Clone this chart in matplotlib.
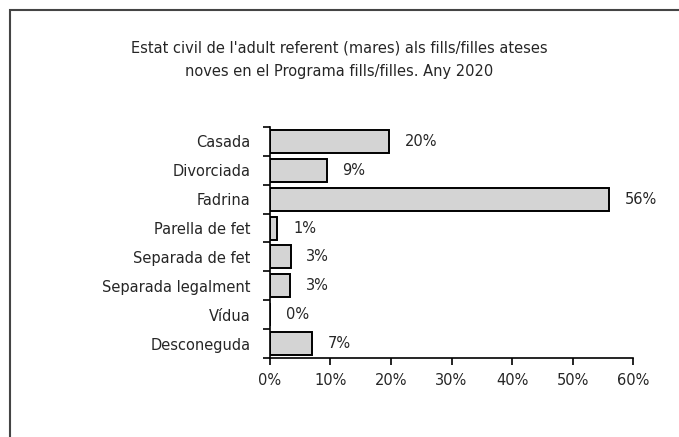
import matplotlib.pyplot as plt
import numpy as np
from matplotlib.patches import Rectangle

# data
categories = ["Casada", "Divorciada", "Fadrina", "Parella de fet",
              "Separada de fet", "Separada legalment", "Vídua", "Desconeguda"]
values = [19.7, 9.4, 56.0, 1.2, 3.4, 3.3, 0.0, 6.9]
labels = ["20%", "9%", "56%", "1%", "3%", "3%", "0%", "7%"]
xticks = [0, 10, 20, 30, 40, 50, 60]
title = ("Estat civil de l'adult referent (mares) als fills/filles ateses\n"
         "noves en el Programa fills/filles. Any 2020")

plt.rcParams['font.family'] = ['DejaVu Sans']
fs = 10.5
txtcol = '#262626'

fig = plt.figure(figsize=(6.79, 4.37), dpi=100)
ax = fig.add_axes([0.3976, 0.1808, 0.5347, 0.5286])

y = np.arange(len(categories))
ax.barh(y, values, height=0.8, color='#d4d4d4', edgecolor='black', linewidth=1.4)
for yi, v, lab in zip(y, values, labels):
    ax.text(v + 2.6, yi, lab, va='center', ha='left', fontsize=fs, color=txtcol)

ax.set_xlim(0, 60)
ax.set_ylim(len(categories) - 0.5, -0.5)
ax.set_xticks(xticks)
ax.set_xticklabels([f"{t}%" for t in xticks], fontsize=fs, color=txtcol)
ax.set_yticks(y)
ax.set_yticklabels(categories, fontsize=fs, color=txtcol)
ax.tick_params(axis='y', length=0, pad=14)
ax.set_yticks(np.arange(len(categories) + 1) - 0.5, minor=True)
ax.tick_params(axis='y', which='minor', length=5, width=1.2)
ax.tick_params(axis='x', length=5, width=1.2, pad=6)
for s in ['top', 'right']:
    ax.spines[s].set_visible(False)
for s in ['left', 'bottom']:
    ax.spines[s].set_linewidth(1.2)

fig.text(0.5, 0.863, title, ha='center', va='center', fontsize=fs,
         linespacing=1.75, color=txtcol)

fig.patches.append(Rectangle((10 / 679, -0.1), 1.1, 1.1 - 10 / 437,
                             transform=fig.transFigure, fill=False,
                             edgecolor='#444444', linewidth=1.5))

fig.savefig("out.png", dpi=100)
